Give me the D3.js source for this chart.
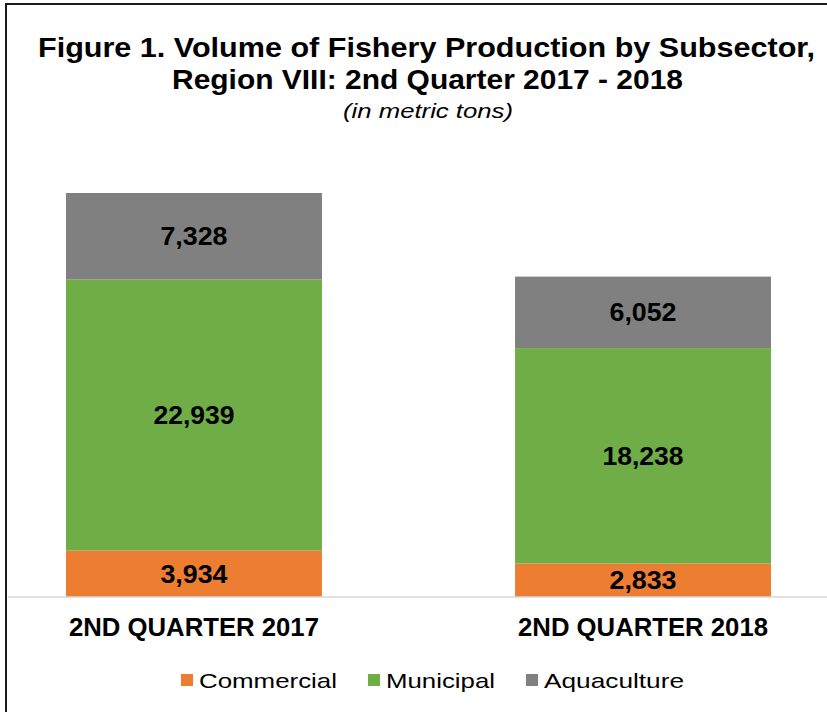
<!DOCTYPE html>
<html>
<head>
<meta charset="utf-8">
<script src="https://cdn.jsdelivr.net/npm/d3@7"></script>
<style>
  body { margin: 0; background: #fff; }
  svg { display: block; font-family: "Liberation Sans", Arial, sans-serif; }
</style>
</head>
<body>
<svg id="chart" width="827" height="712"></svg>
<script>
// data
const categories = ["2ND QUARTER 2017", "2ND QUARTER 2018"];
const subsectors = ["Commercial", "Municipal", "Aquaculture"];
const commercial = [3934, 2833];
const municipal = [22939, 18238];
const aquaculture = [7328, 6052];
const colors = ["#ED7D31", "#70AD47", "#808080"];

const svg = d3.select("#chart");

// the reference picture is a bit stretched sideways, so text gets a fixed length
function stretch(sel, len) {
    sel.attr("textLength", len).attr("lengthAdjust", "spacingAndGlyphs");
}

// frame (left + top edge visible in the reference)
svg.append("path")
    .attr("d", "M6,712 L6,4 L827,4")
    .attr("fill", "none")
    .attr("stroke", "#1a1a1a")
    .attr("stroke-width", 2);

// title
const title = svg.append("g").attr("text-anchor", "middle");
title.append("text")
    .attr("x", 426.5).attr("y", 57)
    .attr("font-size", 28).attr("font-weight", "bold")
    .text("Figure 1. Volume of Fishery Production by Subsector,")
    .call(stretch, 777);
title.append("text")
    .attr("x", 427.5).attr("y", 89)
    .attr("font-size", 28).attr("font-weight", "bold")
    .text("Region VIII: 2nd Quarter 2017 - 2018")
    .call(stretch, 511);
title.append("text")
    .attr("x", 428).attr("y", 118)
    .attr("font-size", 21).attr("font-style", "italic")
    .text("(in metric tons)")
    .call(stretch, 170);

const x = d3.scaleBand()
    .domain(categories)
    .range([66, 771])
    .paddingInner(0.43)
    .paddingOuter(0);

const y = d3.scaleLinear()
    .domain([0, 40000])
    .range([597, 124.5]);

const rows = categories.map((c, i) => ({
    cat: c,
    Commercial: commercial[i],
    Municipal: municipal[i],
    Aquaculture: aquaculture[i]
}));

const stacked = d3.stack().keys(subsectors)(rows);

const layers = svg.append("g").selectAll("g")
    .data(stacked)
    .enter()
    .append("g")
    .attr("fill", (d, i) => colors[i]);

layers.selectAll("rect")
    .data(d => d)
    .enter()
    .append("rect")
    .attr("x", d => x(d.data.cat))
    .attr("y", d => y(d[1]))
    .attr("width", x.bandwidth())
    .attr("height", d => y(d[0]) - y(d[1]));

// value labels
const fmt = d3.format(",");
layers.selectAll("text")
    .data(d => d)
    .enter()
    .append("text")
    .attr("x", d => x(d.data.cat) + x.bandwidth() / 2)
    .attr("y", d => (y(d[0]) + y(d[1])) / 2)
    .attr("dy", "0.36em")
    .attr("text-anchor", "middle")
    .attr("font-size", 25)
    .attr("font-weight", "bold")
    .attr("fill", "#000")
    .text(d => fmt(d[1] - d[0]))
    .attr("textLength", d => fmt(d[1] - d[0]).length === 6 ? 81 : 67)
    .attr("lengthAdjust", "spacingAndGlyphs");

// category axis
const xAxis = svg.append("g")
    .attr("transform", "translate(0,597)")
    .call(d3.axisBottom(x).tickSize(0).tickPadding(21));
xAxis.select(".domain").remove();
xAxis.append("line")
    .attr("x1", 8).attr("x2", 827)
    .attr("stroke", "#d9d9d9").attr("stroke-width", 1.5);
xAxis.selectAll(".tick text")
    .attr("font-family", "Liberation Sans, Arial, sans-serif")
    .attr("font-size", 25)
    .attr("font-weight", "bold")
    .attr("fill", "#000")
    .call(stretch, 250);

// legend
const legendX = [181, 368, 526];
const legendLen = [138, 109, 140];
const legend = svg.append("g").selectAll("g")
    .data(subsectors)
    .enter()
    .append("g")
    .attr("transform", (d, i) => `translate(${legendX[i]},0)`);
legend.append("rect")
    .attr("x", 0).attr("y", 674)
    .attr("width", 12).attr("height", 12)
    .attr("fill", (d, i) => colors[i]);
legend.append("text")
    .attr("x", 18).attr("y", 688)
    .attr("font-size", 21)
    .attr("fill", "#000")
    .text(d => d)
    .attr("textLength", (d, i) => legendLen[i])
    .attr("lengthAdjust", "spacingAndGlyphs");
</script>
</body>
</html>
